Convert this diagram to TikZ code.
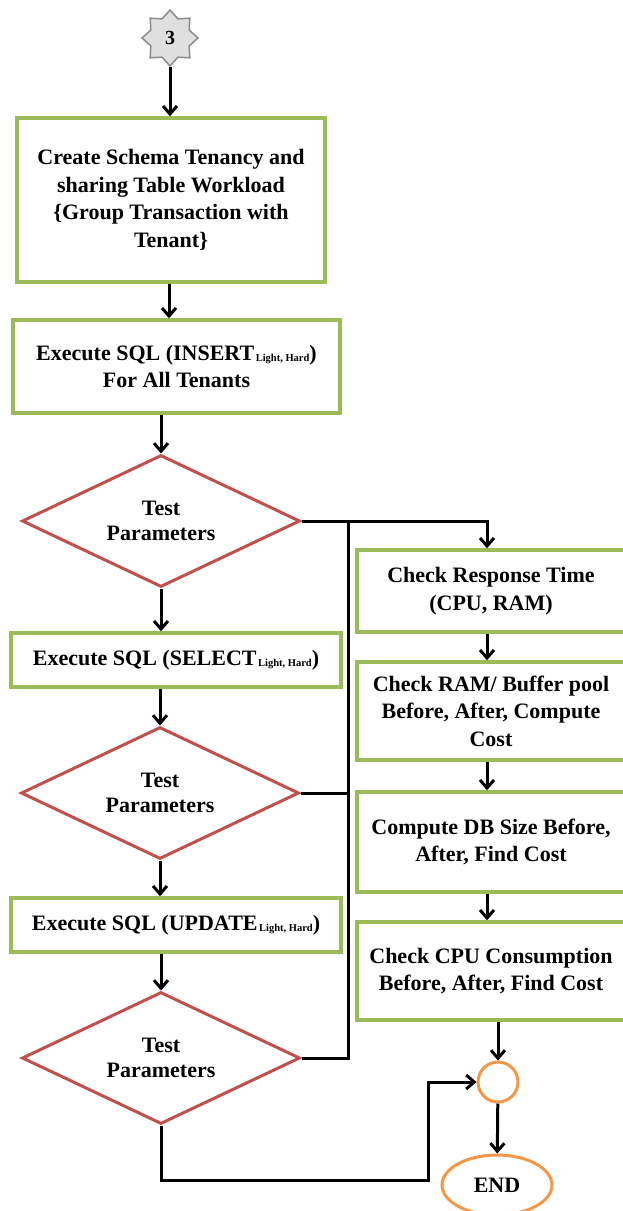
\documentclass[tikz,border=0pt]{standalone}
\usepackage{fontspec}
\setmainfont{Liberation Serif}
\usetikzlibrary{shapes.geometric,arrows.meta}

\definecolor{boxgreen}{HTML}{9BBB59}
\definecolor{diared}{HTML}{C0504D}
\definecolor{junorange}{HTML}{F79646}

\newcommand{\lh}{\hspace{1.5pt}\raisebox{-1.5pt}{\fontsize{10.5}{11}\selectfont Light, Hard}}

\tikzset{
	box/.style={draw=boxgreen, line width=3.5pt, fill=white, align=center, inner sep=0pt,
		font=\fontsize{22}{27.5}\selectfont\bfseries},
	decision/.style={diamond, aspect=2.1, draw=diared, line width=3pt, fill=white, align=center, inner sep=0pt,
		minimum width=278pt, minimum height=132pt, font=\fontsize{22}{25}\selectfont\bfseries},
	junction/.style={circle, draw=junorange, line width=3pt, minimum size=40pt, inner sep=0pt},
	terminal/.style={ellipse, draw=junorange, line width=3pt, minimum width=110pt, minimum height=60pt,
		inner sep=0pt, font=\fontsize{22}{24}\selectfont\bfseries},
	connector/.style={star, star points=8, star point ratio=1.35, minimum size=56pt, inner sep=0pt,
		draw=gray!90, fill=gray!25, line width=1.5pt, font=\fontsize{20}{22}\selectfont\bfseries},
	flow/.style={line width=3pt}
}

\begin{document}
\begin{tikzpicture}[x=1pt, y=-1pt, >={Straight Barb[length=8pt,width=14pt]}]
	\useasboundingbox (0,0) rectangle (622,1211);
	
	% left column
	\node (st) at (170,38) [connector] {3};
	\node (b1) at (171,200) [box, minimum width=308pt, minimum height=164pt] {Create Schema Tenancy and\\ sharing Table Workload\\ \{Group Transaction with\\ Tenant\}};
	\node (b2) at (176.5,366.5) [box, minimum width=327pt, minimum height=93pt] {Execute SQL (INSERT\lh)\\ For All Tenants};
	\node (d1) at (161,521) [decision] {Test\\ Parameters};
	\node (b3) at (176,660) [box, minimum width=330pt, minimum height=54pt] {Execute SQL (SELECT\lh)};
	\node (d2) at (160,793) [decision] {Test\\ Parameters};
	\node (b4) at (176,925) [box, minimum width=330pt, minimum height=54pt] {Execute SQL (UPDATE\lh)};
	\node (d3) at (161,1058) [decision] {Test\\ Parameters};
	
	% right column
	\node (r1) at (491,591) [box, minimum width=268pt, minimum height=82pt] {Check Response Time\\ (CPU, RAM)};
	\node (r2) at (491,711) [box, minimum width=268pt, minimum height=98pt] {Check RAM/ Buffer pool\\ Before, After, Compute\\ Cost};
	\node (r3) at (491,842) [box, minimum width=268pt, minimum height=100pt] {Compute DB Size Before,\\ After, Find Cost};
	\node (r4) at (491,971) [box, minimum width=268pt, minimum height=98pt] {Check CPU Consumption\\ Before, After, Find Cost};
	\node (jn) at (498,1082) [junction] {};
	\node (end) at (497,1185) [terminal] {END};
	
	\coordinate (bus) at (348,521);
	\coordinate (turn) at (428,1180);
	
	\draw [flow, ->] (st) -- (st |- b1.north);
	\draw [flow, ->] (b1.south -| 169,0) -- (b2.north -| 169,0);
	\draw [flow, ->] (b2.south -| d1.north) -- (d1.north);
	\draw [flow, ->] (d1.south) -- (d1.south |- b3.north);
	\draw [flow, ->] (b3.south -| d2.north) -- (d2.north);
	\draw [flow, ->] (d2.south) -- (d2.south |- b4.north);
	\draw [flow, ->] (b4.south -| d3.north) -- (d3.north);
	
	\draw [flow, ->] (d1.east) -| (r1.north -| 487,0);
	\draw [flow] (d3.east) -| (bus);
	\draw [flow] (d2.east) -- (d2.east -| bus);
	
	\draw [flow, ->] (r1.south -| 487,0) -- (r2.north -| 487,0);
	\draw [flow, ->] (r2.south -| 487,0) -- (r3.north -| 487,0);
	\draw [flow, ->] (r3.south -| 487,0) -- (r4.north -| 487,0);
	\draw [flow, ->] (r4.south -| jn.north) -- (jn.north);
	\draw [flow, ->] (d3.south) |- (turn) |- (jn.west);
	\draw [flow, ->] (jn) -- (end);
\end{tikzpicture}
\end{document}
